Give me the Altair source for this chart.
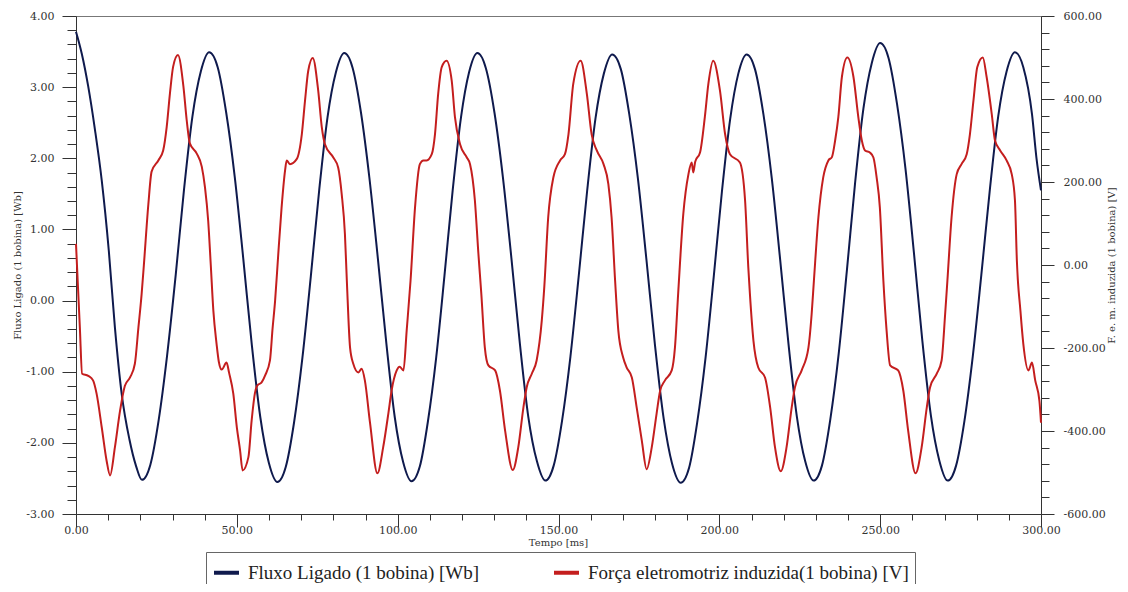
import altair as alt
import pandas as pd

blue_name = "Fluxo Ligado (1 bobina) [Wb]"
red_name = "Força eletromotriz induzida(1 bobina) [V]"

# Fluxo ligado [Wb] (left axis)
blue_t = [0, 1.8, 3.8, 5.9, 8.0, 10.2, 12.1, 14.2, 16.6, 18.7, 20.5,
          23.1, 25.7, 28.3, 31.0, 33.6, 36.2, 38.8, 41.4,
          44.05, 46.7, 49.35, 52.0, 54.65, 57.3, 59.95, 62.6,
          65.2, 67.8, 70.4, 73.0, 75.6, 78.2, 80.8, 83.4,
          86.0, 88.6, 91.2, 93.85, 96.5, 99.1, 101.7, 104.3,
          106.9, 109.4, 112.0, 114.55, 117.1, 119.7, 122.2, 124.8,
          127.4, 130.1, 132.7, 135.35, 138.0, 140.6, 143.3, 145.9,
          148.5, 151.1, 153.7, 156.3, 158.9, 161.5, 164.1, 166.7,
          169.4, 172.0, 174.7, 177.35, 180.0, 182.7, 185.3, 188.0,
          190.6, 193.1, 195.7, 198.25, 200.8, 203.4, 205.9, 208.5,
          211.1, 213.7, 216.3, 218.9, 221.5, 224.1, 226.7, 229.3,
          231.9, 234.5, 237.1, 239.65, 242.2, 244.8, 247.4, 250.0,
          252.6, 255.25, 257.9, 260.5, 263.1, 265.75, 268.4, 271.0,
          273.6, 276.2, 278.8, 281.45, 284.1, 286.7, 289.3, 291.9,
          294.5, 297.2, 298.6, 300.0]
blue_v = [3.78, 3.47, 3.01, 2.40, 1.69, 0.70, -0.38, -1.31, -1.95, -2.33, -2.52,
          -2.31, -1.68, -0.78, 0.36, 1.57, 2.59, 3.22, 3.49,
          3.28, 2.64, 1.74, 0.59, -0.62, -1.64, -2.28, -2.55,
          -2.34, -1.71, -0.80, 0.34, 1.55, 2.58, 3.21, 3.48,
          3.27, 2.64, 1.73, 0.59, -0.61, -1.64, -2.27, -2.54,
          -2.33, -1.70, -0.79, 0.35, 1.55, 2.58, 3.21, 3.48,
          3.27, 2.64, 1.74, 0.60, -0.61, -1.63, -2.26, -2.53,
          -2.32, -1.69, -0.79, 0.35, 1.54, 2.56, 3.19, 3.46,
          3.25, 2.62, 1.71, 0.57, -0.63, -1.66, -2.29, -2.56,
          -2.35, -1.72, -0.81, 0.33, 1.53, 2.56, 3.19, 3.46,
          3.25, 2.62, 1.72, 0.58, -0.61, -1.63, -2.26, -2.53,
          -2.32, -1.67, -0.75, 0.42, 1.65, 2.70, 3.34, 3.62,
          3.41, 2.76, 1.84, 0.67, -0.56, -1.61, -2.25, -2.53,
          -2.32, -1.69, -0.78, 0.36, 1.56, 2.59, 3.22, 3.49,
          3.28, 2.62, 2.00, 1.55]

# Forca eletromotriz induzida [V] (right axis)
red_t = [0.0, 0.4, 1.2, 1.9, 3.8, 5.3, 6.4, 8.0, 9.5, 10.6, 12.1, 13.7, 15.2, 16.8, 18.3,
         19.4, 20.4, 21.1, 22.5, 23.5, 25.6, 27.1, 28.2, 29.2, 30.2, 31.7, 33.4, 34.4,
         35.4, 37.5, 39.1, 40.1, 41.1, 41.9, 42.7, 43.7, 44.4, 45.3, 46.8, 47.6, 48.9,
         50.0, 51.0, 51.8, 53.6, 54.6, 55.6, 56.4, 57.7, 58.8, 60.3, 61.1, 61.9, 62.8,
         63.9, 65.0, 65.5, 66.5, 68.6, 70.2, 71.2, 72.2, 73.6, 75.3, 76.4, 77.4, 80.0,
         81.5, 82.6, 83.6, 84.2, 85.2, 86.2, 87.8, 88.8, 89.8, 91.4, 93.7, 95.5, 97.1,
         98.1, 99.7, 100.6, 101.8, 102.8, 104.0, 105.4, 106.9, 108.0, 109.0, 110.6,
         111.6, 112.6, 113.7, 115.2, 116.8, 117.8, 119.4, 121.5, 122.5, 124.0, 125.1,
         126.0, 127.1, 128.2, 130.3, 131.8, 133.4, 135.8, 137.5, 139.1, 140.1, 141.7,
         143.2, 144.8, 145.6, 146.8, 148.4, 150.5, 152.0, 153.1, 154.6, 156.9, 158.8,
         160.3, 161.9, 164.0, 165.5, 166.5, 167.6, 168.6, 170.1, 171.2, 172.8, 174.3,
         175.9, 177.4, 179.0, 180.5, 181.6, 183.1, 185.2, 186.2, 187.2, 188.8, 190.4,
         191.4, 191.9, 192.5, 194.0, 195.5, 196.6, 198.1, 200.2, 201.8, 203.3, 206.4,
         208.0, 209.0, 209.5, 210.6, 212.1, 214.2, 215.8, 217.3, 219.1, 220.9, 222.5,
         223.5, 225.6, 227.7, 228.7, 229.4, 230.8, 232.3, 233.9, 235.0, 236.0, 237.0,
         238.1, 239.8, 241.7, 243.2, 244.3, 245.3, 246.8, 247.9, 248.9, 249.9, 251.0,
         252.0, 253.1, 255.6, 257.2, 258.7, 261.0, 262.9, 264.5, 265.5, 267.6, 269.1,
         270.2, 270.9, 272.2, 273.8, 275.3, 276.9, 277.9, 279.0, 280.2, 281.9, 283.1,
         284.7, 285.7, 287.3, 289.3, 290.9, 291.9, 292.5, 293.6, 294.5, 296.1, 297.2,
         298.2, 299.5, 300.0]
red_v = [51, -17, -151, -262, -267, -278, -310, -391, -471, -507, -439, -351, -291, -271, -238,
         -151, -70, 0, 147, 225, 252, 276, 333, 413, 478, 506, 430, 350,
         293, 269, 237, 187, 106, 0, -110, -190, -233, -252, -235, -260, -310,
         -391, -446, -495, -463, -375, -310, -290, -283, -266, -230, -154, -86, 17,
         137, 228, 252, 243, 255, 315, 396, 468, 499, 420, 333, 291, 259,
         235, 171, 75, -38, -199, -238, -259, -250, -278, -380, -502, -439, -358,
         -303, -254, -245, -254, -158, -38, 139, 243, 252, 252, 267,
         315, 413, 477, 492, 444, 357, 291, 259, 243, 156, 27,
         -69, -199, -242, -254, -303, -399, -494, -439, -343, -295, -262,
         -230, -134, -51, 115, 211, 252, 267, 315, 437, 492, 413,
         315, 276, 243, 195, 115, -38, -158, -223, -247, -271, -343,
         -423, -492, -439, -358, -303, -278, -254, -199, -69, 123, 219,
         247, 223, 249, 271, 357, 437, 492, 420, 315, 267, 247,
         156, -5, -69, -182, -247, -271, -343, -439, -497, -439, -343,
         -295, -254, -199, -118, -38, 115, 211, 252, 260, 300, 357,
         453, 500, 453, 357, 300, 276, 271, 259, 211, 139, -38,
         -158, -242, -254, -303, -399, -502, -439, -343, -295, -262, -230,
         -118, -38, 115, 219, 243, 267, 315, 396, 477, 500, 453,
         363, 300, 276, 252, 219, 156, 10, -110, -190, -254, -235,
         -278, -327, -380]

# axis tick positions
x_ticks = list(range(0, 301, 10))
yl_ticks = [round(-3 + 0.2 * i, 1) for i in range(36)]
yr_ticks = list(range(-600, 601, 40))

df_b = pd.DataFrame({"t": blue_t, "v": blue_v, "s": blue_name})
df_r = pd.DataFrame({"t": red_t, "v": red_v, "s": red_name})

FONT = "DejaVu Serif"

color = alt.Color(
    "s:N",
    scale=alt.Scale(domain=[blue_name, red_name], range=["#0f1a4d", "#c41e1e"]),
    legend=alt.Legend(
        title=None, orient="none", legendX=130, legendY=536, direction="horizontal",
        symbolType="stroke", symbolStrokeWidth=4, symbolSize=625,
        labelFont="Liberation Serif", labelFontSize=19, labelColor="#222",
        strokeColor="#666", fillColor="white", padding=6, columnPadding=66,
        labelOffset=7, labelLimit=500,
    ),
)

x = alt.X(
    "t:Q",
    scale=alt.Scale(domain=[0, 300], nice=False, zero=False),
    axis=alt.Axis(
        title="Tempo [ms]", values=x_ticks,
        labelExpr="datum.value % 50 == 0 ? format(datum.value, '.2f') : ''",
        tickSize={"condition": {"test": "datum.value % 50 == 0", "value": 13}, "value": 6},
        labelPadding=-3, labelFlush=False, labelOverlap=False, labelBound=False,
        titleX=482, titleY=28, titleBaseline="middle", titleAlign="center",
    ),
)

blue = alt.Chart(df_b).mark_line(strokeWidth=2, interpolate="monotone").encode(
    x=x,
    y=alt.Y(
        "v:Q",
        scale=alt.Scale(domain=[-3, 4], nice=False, zero=False),
        axis=alt.Axis(
            orient="left", title=blue_name, values=yl_ticks,
            labelExpr="abs(datum.value - round(datum.value)) < 0.001 ? replace(format(datum.value, '.2f'), '\u2212', '-') : ''",
            tickSize={"condition": {"test": "abs(datum.value - round(datum.value)) < 0.001", "value": 14}, "value": 9},
            labelPadding=8, labelFlush=False, labelOverlap=False, labelBound=False,
            titleAngle=270, titleX=-59, titleY=249, titleAlign="center", titleBaseline="middle",
        ),
    ),
    color=color,
)

red = alt.Chart(df_r).mark_line(strokeWidth=2, interpolate="monotone").encode(
    x=x,
    y=alt.Y(
        "v:Q",
        scale=alt.Scale(domain=[-600, 600], nice=False, zero=False),
        axis=alt.Axis(
            orient="right", title="F. e. m. induzida (1 bobina) [V]", values=yr_ticks,
            labelExpr="datum.value % 200 == 0 ? replace(format(datum.value, '.2f'), '\u2212', '-') : ''",
            tickSize={"condition": {"test": "datum.value % 200 == 0", "value": 13}, "value": 8},
            labelPadding=9, labelFlush=False, labelOverlap=False, labelBound=False,
            titleAngle=270, titleX=70, titleY=249, titleAlign="center", titleBaseline="middle",
        ),
    ),
    color=color,
)

chart = (
    alt.layer(blue, red)
    .resolve_scale(y="independent")
    .properties(
        width=965, height=498,
        autosize=alt.AutoSizeParams(type="none"),
        padding={"left": 68, "top": 8, "right": 79, "bottom": 70},
        background="white",
    )
    .configure_axis(
        labelFont=FONT, labelFontSize=11, labelColor="#333",
        titleFont=FONT, titleFontSize=10, titleFontWeight="normal", titleColor="#333",
        domainColor="#333", tickColor="#333", grid=False,
    )
    .configure_view(stroke="#777", strokeWidth=1)
)

chart.save("out.html", embed_options={"renderer": "svg", "actions": False})
